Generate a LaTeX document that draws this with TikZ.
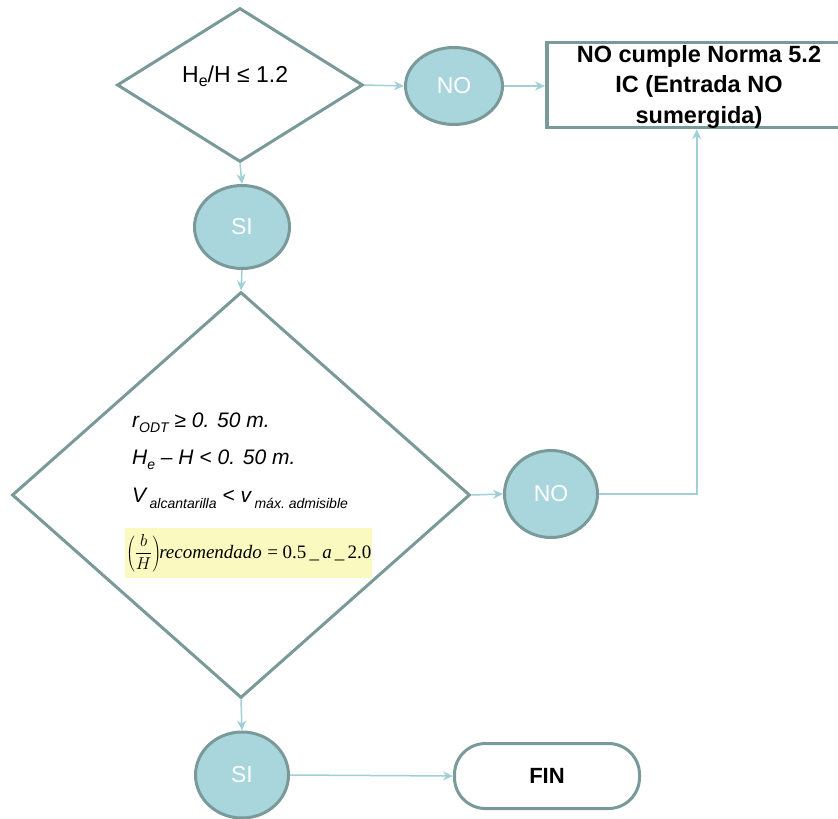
\documentclass[tikz,border=0pt]{standalone}
\usepackage{fontspec}
\setmainfont{Liberation Sans}
\newfontfamily\serifit{Liberation Serif}
\usetikzlibrary{shapes.geometric,arrows.meta}

\definecolor{edgegray}{RGB}{122,154,154}
\definecolor{circfill}{RGB}{168,214,220}
\definecolor{linkblue}{RGB}{160,208,214}
\definecolor{hilite}{RGB}{250,250,192}

\newcommand{\subtxt}[2][5pt]{\raisebox{-#1}{\fontsize{14}{14}\selectfont #2}}

\begin{document}
\begin{tikzpicture}[x=1pt,y=-1pt,
  decision/.style={draw=edgegray,line width=3pt,diamond,inner sep=0pt,fill=white},
  answer/.style={draw=edgegray,line width=3pt,ellipse,fill=circfill,inner sep=0pt,
    text=white,font=\fontsize{23}{23}\selectfont},
  outcome/.style={draw=edgegray,line width=3.5pt,rectangle,fill=white,inner sep=0pt},
  endbox/.style={draw=edgegray,line width=3pt,rounded corners=31pt,fill=white,inner sep=0pt,
    font=\bfseries\fontsize{22}{22}\selectfont},
  link/.style={draw=linkblue,line width=1.5pt,-{Stealth[length=10pt,width=9pt]}}
]
\useasboundingbox[fill=white] (0,0) rectangle (838,819);

% first test
\node[decision,minimum width=246pt,minimum height=154pt] (d1) at (240,85) {};
\node[anchor=base west,font=\fontsize{23}{23}\selectfont,inner sep=0pt] (d1txt) at (182,82)
  {H\raisebox{-4pt}{\fontsize{16}{16}\selectfont e}/H ≤ 1.2};

% first outcome (box runs past the right edge)
\node[answer,minimum width=97pt,minimum height=77pt] (no1) at (454,86) {NO};
\node[outcome,minimum width=310pt,minimum height=85pt,anchor=west] (nc) at (545,85) {};
\node[anchor=base,align=center,inner sep=0pt,
  font=\bfseries\fontsize{23.5}{30.5}\selectfont] (nctxt) at (699,123)
  {NO cumple Norma 5.2\\IC (Entrada NO\\sumergida)};

\node[answer,minimum width=95pt,minimum height=83pt] (si1) at (242,227) {SI};

% second test
\node[decision,minimum width=458pt,minimum height=406pt] (d2) at (241,495) {};
\node[anchor=base west,align=left,inner sep=0pt,
  font=\itshape\fontsize{21}{37.5}\selectfont] (d2txt) at (132,502)
  {r\subtxt{ODT}\ ≥ 0. 50 m.\\
   H\subtxt{e} – H < 0. 50 m.\\
   V\,\subtxt[6pt]{alcantarilla}\ <\ v\,\subtxt[6pt]{máx.\ admisible}};
\node[fill=hilite,inner sep=0pt,minimum width=247pt,minimum height=50pt,anchor=west,
  font=\fontsize{19}{19}\selectfont] (ratio) at (125,553)
  {$\left(\displaystyle\frac{b}{H}\right)$\kern-2pt{\serifit\itshape recomendado} {\serifit = 0.5\,\_\,\textit{a}\,\_\,2.0}};

\node[answer,minimum width=93pt,minimum height=87pt] (no2) at (551,494) {NO};
\node[answer,minimum width=93pt,minimum height=86pt] (si2) at (242,775) {SI};
\node[endbox,minimum width=185pt,minimum height=65pt] (fin) at (547,776) {FIN};

% connectors
\draw[link] (d1.south) -- (si1.north);
\draw[link] (d1.east) -- (no1.west);
\draw[link] (no1.east) -- (no1.east -| nc.west);
\draw[link] (si1.south) -- (d2.north);
\draw[link] (d2.east) -- (no2.west);
\draw[link] (no2.east) -| ([xshift=-5pt]nc.south);
\draw[link] (d2.south) -- (si2.north);
\draw[link] (si2.east) -- (fin.west);
\end{tikzpicture}
\end{document}
